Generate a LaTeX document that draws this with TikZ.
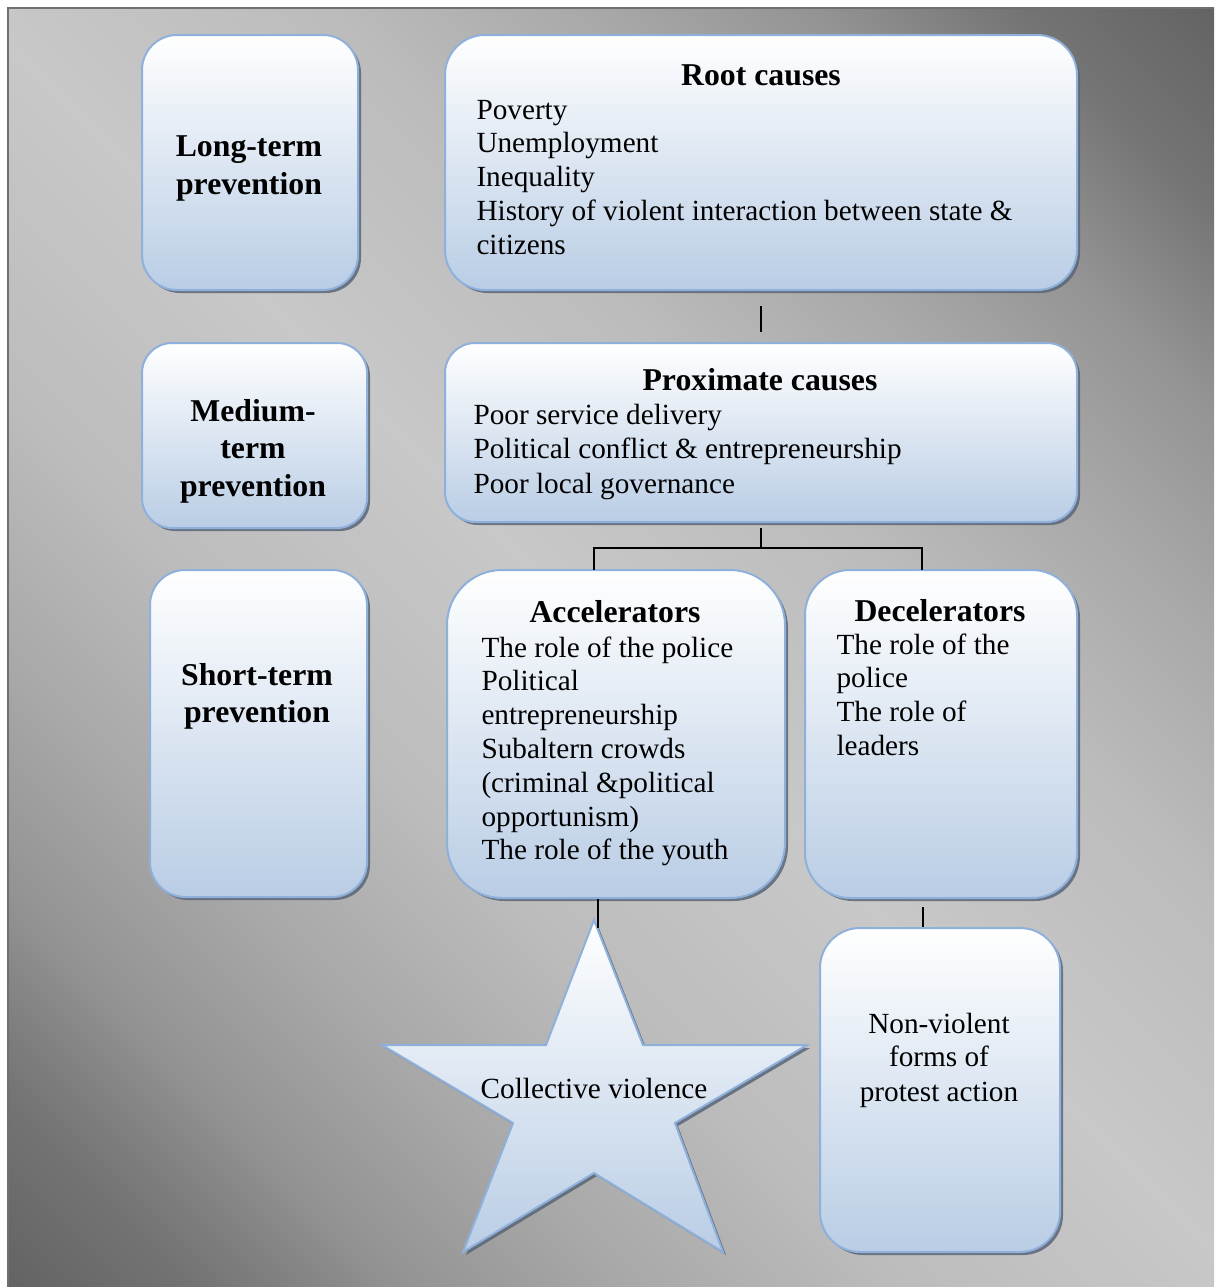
\documentclass[tikz,border=0pt]{standalone}
\usepackage{fontspec}
\setmainfont{Liberation Serif}
\usetikzlibrary{fit,shadows}
\definecolor{bgA}{HTML}{636363}
\definecolor{bgB}{HTML}{747474}
\definecolor{bgC}{HTML}{939393}
\definecolor{bgD}{HTML}{A8A8A8}
\definecolor{bgE}{HTML}{BCBCBC}
\definecolor{bgF}{HTML}{C8C8C8}
\definecolor{bgline}{HTML}{707070}
\definecolor{boxblue}{HTML}{B9CDE5}
\definecolor{boxline}{HTML}{8EB0DA}
\definecolor{shadowc}{HTML}{5A6678}
\pgfdeclareverticalshading{bgdiag}{100bp}{color(0bp)=(bgA); color(14.64bp)=(bgA); color(20.30bp)=(bgB); color(25.95bp)=(bgC); color(32.32bp)=(bgD); color(40.10bp)=(bgE); color(50bp)=(bgF); color(59.90bp)=(bgE); color(67.68bp)=(bgD); color(74.05bp)=(bgC); color(79.70bp)=(bgB); color(85.36bp)=(bgA); color(100bp)=(bgA)}
\begin{document}
\begin{tikzpicture}[x=0.4pt,y=-0.4pt,
  box/.style={draw=boxline, line width=0.8pt, top color=white, bottom color=boxblue, inner sep=0pt,
    drop shadow={shadow xshift=1.2pt, shadow yshift=-1.2pt, fill=shadowc, opacity=0.85}},
  txt/.style={inner sep=0pt, font=\fontsize{11.7}{13.6}\selectfont},
  hd/.style={inner sep=0pt, font=\fontsize{12.7}{15.2}\selectfont\bfseries},
  conn/.style={draw=black, line width=0.6pt}]
\useasboundingbox (0,0) rectangle (1214,1287);
\begin{scope}
\clip (0,0) rectangle (1214,1287);
\shade[shading=bgdiag, shading angle=-45] (8,8) rectangle (1222,1295);
\draw[draw=bgline, line width=0.8pt] (8,8) rectangle (1240,1310);
\end{scope}

% boxes
\node[box, rounded corners=14pt, fit={(142,35) (358,290)}] (lt) {};
\node[box, rounded corners=16pt, fit={(445,35) (1077,290)}] (root) {};
\node[box, rounded corners=12pt, fit={(142,343) (367,528)}] (mt) {};
\node[box, rounded corners=12pt, fit={(445,343) (1077,522)}] (prox) {};
\node[box, rounded corners=14pt, fit={(150,570) (367,897)}] (st) {};
\node[box, rounded corners=22pt, fit={(447,570) (785,898)}] (acc) {};
\node[box, rounded corners=18pt, fit={(805,570) (1077,898)}] (dec) {};
\node[box, rounded corners=16pt, fit={(820,928) (1060,1252)}] (nv) {};

% star
\path[box] (594,920) -- (643,1045) -- (807,1045) -- (675,1123) -- (723,1252) -- (594,1173)
  -- (463,1252) -- (513,1123) -- (382,1045) -- (546,1045) -- cycle;

% left column texts
\node[hd, anchor=base] (lt1) at (249,156) {Long-term};
\node[hd, anchor=base] (lt2) at (249,194) {prevention};
\node[hd, anchor=base] (mt1) at (253,421) {Medium-};
\node[hd, anchor=base] (mt2) at (253,458) {term};
\node[hd, anchor=base] (mt3) at (253,496) {prevention};
\node[hd, anchor=base] (st1) at (257,685) {Short-term};
\node[hd, anchor=base] (st2) at (257,722) {prevention};

% root causes
\node[hd, anchor=base] (rootT) at (761,85) {Root causes};
\foreach \t [count=\i] in {{Poverty},{Unemployment},{Inequality},{History of violent interaction between state \&},{citizens}}
  \node[txt, anchor=base west] (root\i) at (476,{119+33.75*(\i-1)}) {\t};

% proximate causes
\node[hd, anchor=base] (proxT) at (760,390) {Proximate causes};
\foreach \t [count=\i] in {{Poor service delivery},{Political conflict \& entrepreneurship},{Poor local governance}}
  \node[txt, anchor=base west] (prox\i) at (473,{424+34.5*(\i-1)}) {\t};

% accelerators
\node[hd, anchor=base] (accT) at (615,622) {Accelerators};
\foreach \t [count=\i] in {{The role of the police},{Political},{entrepreneurship},{Subaltern crowds},{(criminal \&political},{opportunism)},{The role of the youth}}
  \node[txt, anchor=base west] (acc\i) at (481,{657+33.8*(\i-1)}) {\t};

% decelerators
\node[hd, anchor=base] (decT) at (940,621) {Decelerators};
\foreach \t [count=\i] in {{The role of the},{police},{The role of},{leaders}}
  \node[txt, anchor=base west] (dec\i) at (836,{654+33.7*(\i-1)}) {\t};

% non-violent
\node[txt, anchor=base] (nv1) at (939,1033) {Non-violent};
\node[txt, anchor=base] (nv2) at (939,1066) {forms of};
\node[txt, anchor=base] (nv3) at (939,1101) {protest action};

% star text
\node[txt, anchor=base] (cv) at (594,1098) {Collective violence};

% connectors
\draw[conn, shorten <=6pt, shorten >=4pt] (root.south) -- (prox.north);
\coordinate (jn) at (762,548);
\coordinate (accIn) at (594,570);
\coordinate (decIn) at (922,570);
\draw[conn] ([yshift=-2pt]prox.south) |- (accIn |- jn) -- (accIn);
\draw[conn] (jn) -| (decIn);
\coordinate (starIn) at (598,928);
\draw[conn] (starIn |- acc.south) -- (starIn);
\coordinate (nvFrom) at (923,907);
\draw[conn] (nvFrom) -- (nv.north -| nvFrom);
\end{tikzpicture}
\end{document}
